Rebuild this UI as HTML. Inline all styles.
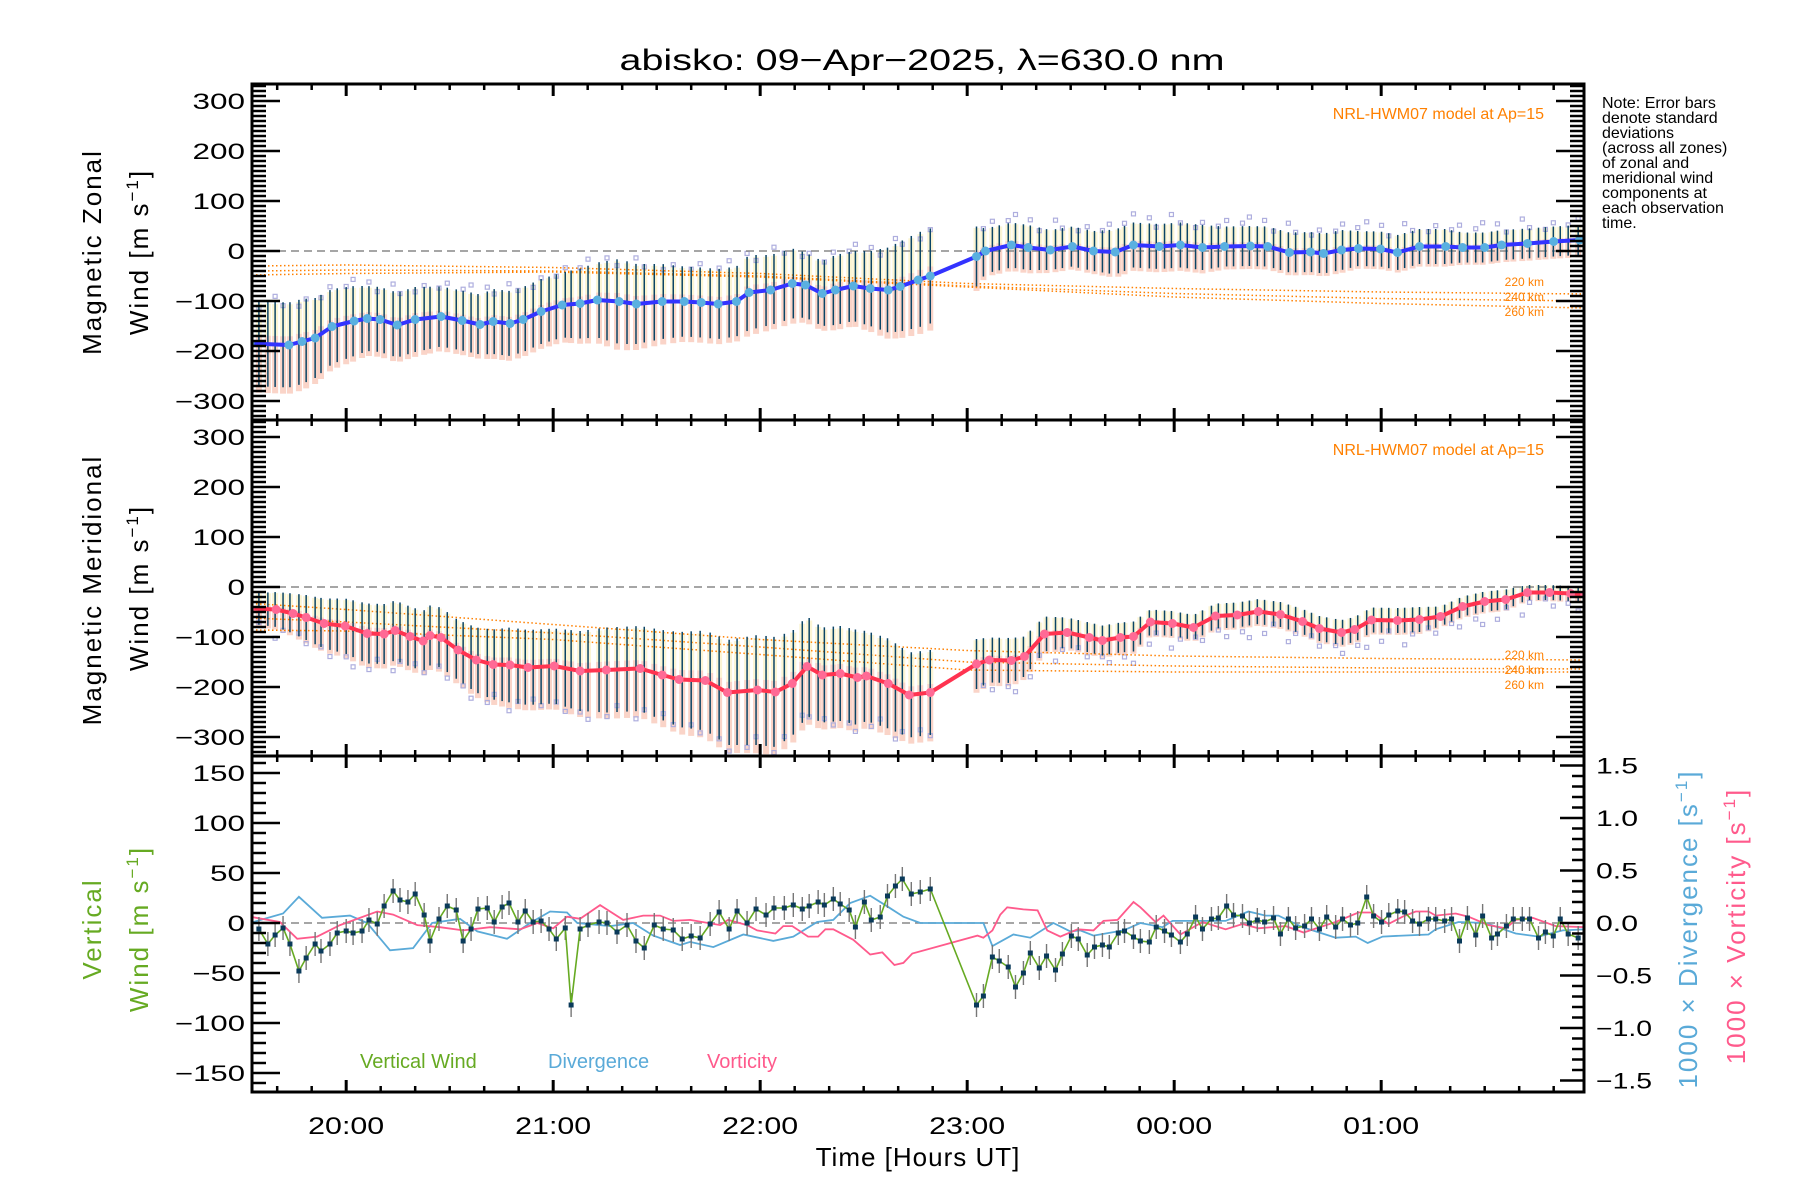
<!DOCTYPE html>
<html><head><meta charset="utf-8"><title>abisko winds</title>
<style>
html,body{margin:0;padding:0;background:#fff;}
svg{display:block;}
text{font-family:"Liberation Sans",sans-serif;}
</style></head>
<body>
<svg id="chart" xmlns="http://www.w3.org/2000/svg" width="1800" height="1200" viewBox="0 0 1800 1200">
<rect x="0" y="0" width="1800" height="1200" fill="#fff"/>
<defs>
<clipPath id="c1"><rect x="252" y="84" width="1332" height="336"/></clipPath>
<clipPath id="c2"><rect x="252" y="420" width="1332" height="336"/></clipPath>
<clipPath id="c3"><rect x="252" y="756" width="1332" height="336"/></clipPath>
</defs>
<text x="922" y="70" font-size="30" text-anchor="middle" textLength="605" lengthAdjust="spacingAndGlyphs">abisko: 09−Apr−2025, λ=630.0 nm</text>
<g font-size="16" fill="#000">
<text x="1602" y="108">Note: Error bars</text>
<text x="1602" y="123">denote standard</text>
<text x="1602" y="138">deviations</text>
<text x="1602" y="153">(across all zones)</text>
<text x="1602" y="168">of zonal and</text>
<text x="1602" y="183">meridional wind</text>
<text x="1602" y="198">components at</text>
<text x="1602" y="213">each observation</text>
<text x="1602" y="228">time.</text>
</g>
<text transform="rotate(-90 101 252)" x="101" y="252" font-size="26" text-anchor="middle" letter-spacing="2">Magnetic Zonal</text>
<text transform="rotate(-90 148 252)" x="148" y="252" font-size="26" text-anchor="middle" letter-spacing="2">Wind [m s<tspan dy="-10" font-size="17">−1</tspan><tspan dy="10">]</tspan></text>
<text transform="rotate(-90 101 590)" x="101" y="590" font-size="26" text-anchor="middle" letter-spacing="2">Magnetic Meridional</text>
<text transform="rotate(-90 148 588)" x="148" y="588" font-size="26" text-anchor="middle" letter-spacing="2">Wind [m s<tspan dy="-10" font-size="17">−1</tspan><tspan dy="10">]</tspan></text>
<text transform="rotate(-90 101 929)" x="101" y="929" font-size="26" text-anchor="middle" letter-spacing="2" fill="#66aa22">Vertical</text>
<text transform="rotate(-90 148 929)" x="148" y="929" font-size="26" text-anchor="middle" letter-spacing="2" fill="#66aa22">Wind [m s<tspan dy="-10" font-size="17">−1</tspan><tspan dy="10">]</tspan></text>
<text transform="rotate(-90 1697 929)" x="1697" y="929" font-size="26" text-anchor="middle" letter-spacing="2" fill="#5aaad8">1000 × Divergence [s<tspan dy="-10" font-size="17">−1</tspan><tspan dy="10">]</tspan></text>
<text transform="rotate(-90 1745 926)" x="1745" y="926" font-size="26" text-anchor="middle" letter-spacing="2" fill="#ff5a8c">1000 × Vorticity [s<tspan dy="-10" font-size="17">−1</tspan><tspan dy="10">]</tspan></text>
<text x="918" y="1166" font-size="26" text-anchor="middle" letter-spacing="1">Time [Hours UT]</text>
<text x="1544" y="119" font-size="16" fill="#ff8000" text-anchor="end">NRL-HWM07 model at Ap=15</text>
<text x="1544" y="455" font-size="16" fill="#ff8000" text-anchor="end">NRL-HWM07 model at Ap=15</text>
<text x="360" y="1068" font-size="20" fill="#66aa22">Vertical Wind</text>
<text x="548" y="1068" font-size="20" fill="#5aaad8">Divergence</text>
<text x="707" y="1068" font-size="20" fill="#ff5a8c">Vorticity</text>
</svg>
<script>
// ---------- data (times in minutes after 19:00 UT) ----------
const obsTimes=[34.7,37.3,39.4,41.7,43.7,46.3,48.4,51.0,52.7,55.3,57.4,60.0,62.0,64.6,66.6,69.0,71.0,73.6,75.6,77.9,80.0,82.6,84.3,86.9,89.3,91.9,93.9,96.2,98.2,100.9,102.9,105.2,107.2,109.8,111.9,114.2,116.5,118.8,120.9,123.5,125.2,127.8,130.1,133.3,135.6,138.5,141.4,144.0,146.4,149.3,151.9,154.8,157.4,160.0,162.6,165.5,168.1,171.0,173.3,176.2,178.8,181.7,184.0,187.0,189.6,192.2,194.2,196.8,198.6,201.2,203.2,205.8,207.6,210.2,212.2,214.8,216.9,219.2,221.2,223.8,226.4,229.3,242.7,244.7,247.3,249.3,251.9,254.0,256.3,258.3,260.9,263.0,265.6,267.6,270.2,272.2,274.8,276.9,279.2,281.2,283.8,285.6,288.2,290.2,292.8,294.8,297.2,299.2,301.8,303.8,306.2,308.2,310.8,312.8,315.2,317.2,319.8,321.8,324.1,326.2,328.8,330.8,333.1,335.2,337.8,339.8,342.1,344.2,346.8,348.8,351.1,353.2,355.8,357.8,360.1,362.2,364.8,366.8,369.1,371.1,373.7,375.8,378.4,380.4,382.7,385.0,387.4,389.4,392.0,393.7,396.3,398.3,400.9,403.0,405.6,407.6,409.9,411.9,414.2,417.1];
const verticalWind=[-6,-21,-12,-5,-21,-48,-35,-21,-28,-21,-10,-8,-10,-8,3,-1,17,32,23,21,29,8,-18,4,17,13,-18,-6,14,15,1,16,20,1,12,1,2,-6,-16,-5,-82,-6,-2,1,0,-9,-2,-18,-25,-2,-6,-7,-16,-13,-15,-1,11,-6,12,0,14,8,15,15,18,14,17,21,18,24,19,13,-4,21,3,6,27,37,44,29,31,34,-82,-73,-34,-38,-44,-64,-50,-30,-45,-33,-47,-31,-13,-16,-32,-24,-22,-24,-10,-8,-14,-18,-19,-4,-8,-12,-19,-11,6,-6,4,5,17,8,7,0,3,1,5,-11,4,-5,-3,4,-6,6,-4,4,-2,0,26,7,1,8,12,11,2,-1,4,4,2,4,-18,5,-12,7,-15,-11,-3,4,4,4,-15,-9,-13,4,-11,-15];
const verticalErr=12;

const zonalTimes=[32.1,43.4,47.2,51.0,55.9,62.3,66.1,69.8,74.8,80.0,87.5,93.6,98.8,102.6,107.5,111.3,116.5,122.6,127.8,132.8,139.1,144.1,151.6,158.0,162.9,167.8,173.1,176.8,183.0,189.3,193.1,198.0,201.8,207.0,211.9,217.1,220.6,225.8,229.3,242.7,245.3,252.8,257.7,264.1,270.5,276.6,282.9,288.2,295.7,301.8,308.2,314.6,322.1,327.1,333.4,339.5,343.3,348.5,353.4,359.8,364.7,371.1,378.7,383.6,390.0,394.9,402.4,410.0,417.5];
const zonalWind=[-185,-188,-181,-174,-151,-140,-135,-137,-148,-137,-131,-139,-147,-141,-145,-137,-121,-108,-105,-98,-101,-106,-101,-101,-103,-106,-101,-83,-78,-65,-68,-85,-78,-70,-75,-78,-71,-58,-50,-11,0,12,7,2,9,0,-2,12,9,12,7,9,10,9,-3,-2,-5,2,5,4,-3,9,9,7,7,12,15,19,22];
const zonalStd=[85,85,85,80,75,70,65,65,65,65,60,60,60,65,65,65,65,65,70,75,85,80,75,70,70,70,70,75,70,70,65,65,70,70,75,85,90,95,95,60,45,45,45,40,40,40,45,45,45,45,45,40,40,40,40,40,40,40,35,35,35,35,35,30,30,30,30,30,30];

const meridTimes=[32.1,39.7,44.6,48.4,53.6,59.7,66.1,71.0,74.2,78.5,82.3,84.3,87.5,92.4,97.7,102.6,107.5,112.7,120.3,127.8,135.4,145.2,151.6,156.5,164.1,170.5,179.2,184.4,189.3,193.6,198.0,203.2,208.2,210.8,217.1,223.2,229.3,242.7,246.4,252.8,256.6,262.4,269.0,275.4,279.2,284.4,288.2,293.1,299.5,305.6,312.0,318.3,324.4,330.8,337.2,342.1,348.5,352.3,357.2,364.7,371.1,377.2,383.6,390.0,396.1,402.4,408.8,414.9,419.0];
const meridWind=[-43,-45,-53,-61,-73,-78,-93,-94,-87,-99,-108,-97,-101,-126,-146,-155,-156,-161,-158,-168,-166,-163,-176,-185,-187,-211,-206,-210,-193,-159,-176,-173,-181,-178,-193,-216,-211,-154,-146,-147,-139,-94,-91,-101,-107,-101,-99,-70,-73,-81,-58,-56,-49,-55,-69,-83,-91,-85,-66,-67,-65,-59,-39,-29,-25,-11,-11,-13,-15];
const meridStd=[30,35,40,45,50,55,60,60,60,60,60,60,60,60,65,70,75,75,75,80,85,85,90,95,100,105,110,110,105,100,95,95,95,90,90,85,85,50,45,45,40,35,30,30,30,30,30,25,25,25,25,25,25,25,25,25,25,25,25,25,25,20,20,20,20,15,15,15,15];

const divTimes=[32.1,41.7,46.3,53.0,61.1,66.1,72.7,79.4,84.9,93.0,98.0,106.6,113.3,119.1,124.0,127.0,136.5,143.2,149.0,156.8,159.7,166.4,175.1,183.8,189.6,196.5,201.2,206.1,211.9,217.7,221.5,226.4,244.7,247.3,253.4,258.3,265.0,269.9,272.8,276.6,285.3,290.2,296.6,299.5,314.9,321.5,326.5,330.2,337.2,343.9,346.8,352.6,356.1,360.4,366.2,373.7,375.8,382.4,390.3,399.0,405.6,412.6,419.3];
const divergence=[0,0.09,0.25,0.05,0.07,0,-0.26,-0.24,0,0.04,-0.08,-0.15,0,0.11,0.1,0,-0.03,0,-0.12,-0.21,-0.18,-0.23,-0.11,-0.17,-0.13,0.01,0.03,0.19,0.26,0.14,0.06,0,0,-0.22,-0.11,-0.14,0,-0.08,-0.07,-0.12,-0.07,0,-0.04,0.02,0.02,0.11,0.07,0.07,-0.04,-0.11,-0.14,-0.13,-0.19,-0.13,-0.12,-0.11,-0.06,0.01,0,-0.1,-0.13,-0.07,-0.06];

const vortTimes=[32.1,40.8,45.8,51.6,58.2,69.0,73.6,80.6,87.2,93.9,101.7,110.4,115.4,120.0,124.0,127.8,133.6,140.3,146.1,151.0,154.8,159.7,168.4,170.7,176.2,179.1,184.4,186.7,189.3,193.9,196.8,198.9,201.2,207.0,211.9,215.4,218.9,221.5,224.1,243.0,244.7,247.3,249.6,251.6,256.3,260.4,263.2,267.0,272.0,276.6,279.5,283.6,288.2,290.2,294.6,296.9,301.8,308.2,314.9,319.8,324.4,332.3,337.5,346.8,353.4,357.5,362.1,366.2,370.0,373.7,375.8,381.6,385.3,391.1,396.1,399.0,403.9,410.6,419.3];
const vorticity=[0.06,0.01,-0.15,-0.13,-0.02,0.11,0.08,-0.02,-0.04,-0.07,-0.04,-0.06,0,-0.05,0.06,0.04,0.17,0.03,0.07,0.07,0.02,0.03,-0.02,0.03,-0.02,-0.07,-0.1,-0.03,-0.03,-0.13,-0.13,-0.06,-0.06,-0.16,-0.3,-0.28,-0.4,-0.38,-0.29,-0.12,-0.14,-0.07,0.08,0.15,0.13,0.12,-0.07,-0.13,-0.06,-0.07,0.02,0.03,0.2,0.15,0.01,0.07,-0.11,0.01,-0.06,-0.01,-0.05,-0.03,-0.09,0.01,0.1,0.1,-0.01,0.06,0.11,0.11,0.07,0.09,0.06,-0.02,-0.05,0.03,0.05,-0.03,-0.04];

const modelTimes=[32.7,60,120,180,240,300,360,419];
const zonalModel220=[-30,-28,-33,-45,-65,-75,-82,-86];
const zonalModel240=[-40,-38,-40,-50,-70,-85,-95,-100];
const zonalModel260=[-48,-45,-42,-52,-72,-92,-105,-114];
const meridModel220=[-33,-45,-75,-105,-127,-138,-143,-146];
const meridModel240=[-62,-70,-92,-120,-150,-158,-162,-164];
const meridModel260=[-86,-88,-105,-135,-166,-170,-170,-170];

const hourTicks=[60,120,180,240,300,360];
const hourLabels=['20:00','21:00','22:00','23:00','00:00','01:00'];
const windTickLabels=[300,200,100,0,-100,-200,-300];
const vertTickLabels=[150,100,50,0,-50,-100,-150];
const rightTickLabels=[1.5,1.0,0.5,0.0,-0.5,-1.0,-1.5];

// ---------- scales ----------
const L=252,R=1584;
const panels=[{top:84,bot:420},{top:420,bot:756},{top:756,bot:1092}];
const X=m=>L+(m-32.7)*3.45;
const Y1=v=>251-0.5*v;
const Y2=v=>587-0.5*v;
const Y3=v=>923-v;
const YR=v=>923-105*v;

const NS='http://www.w3.org/2000/svg';
const svg=document.getElementById('chart');
function mk(tag,attrs,parent){const e=document.createElementNS(NS,tag);for(const k in attrs)e.setAttribute(k,attrs[k]);(parent||svg).appendChild(e);return e;}
function interp(ts,vs,t){if(t<=ts[0])return vs[0];for(let i=1;i<ts.length;i++){if(t<=ts[i]){const f=(t-ts[i-1])/(ts[i]-ts[i-1]);return vs[i-1]+f*(vs[i]-vs[i-1]);}}return vs[vs.length-1];}
function pts(ts,vs,Y){let s='';const n=Math.min(ts.length,vs.length);for(let i=0;i<n;i++)s+=X(ts[i]).toFixed(1)+','+Y(vs[i]).toFixed(1)+' ';return s;}

// ---------- wind panels (zonal, meridional) ----------
function windPanel(idx,Y,ts,vs,sd,models,lineCol,dotCol,name){
  const g=mk('g',{'clip-path':'url(#c'+(idx+1)+')'});
  
  
  const up=idx===0;
  for(let i=0;i<obsTimes.length;i++){
    const t=obsTimes[i],c=interp(ts,vs,t),s=interp(ts,sd,t),x=X(t);
    const yl=mk('rect',{x:x-3,y:Y(c+0.95*s),width:6,height:Math.abs(Y(c+0.2*s)-Y(c+0.95*s)),fill:'#faeeb8',opacity:0.6},g);
    
    
    const sa=mk('rect',{x:x-3,y:Y(c+0.2*s),width:6,height:Math.abs(Y(c-1.15*s)-Y(c+0.2*s)),fill:'#f7b8a4',opacity:0.6},g);
    
    
    if(i%3!==1){
      const off=up?(0.85*s+((i*7)%5)*6):(-0.85*s-((i*7)%5)*7);
      const sq=mk('rect',{x:x-2,y:Y(c+off)-2,width:4,height:4,fill:'none',stroke:'#aeaede','stroke-width':1.2},g);
      
      
    }
  }
  const names=['220','240','260'];
  models.forEach((mv,k)=>{
    const pl=mk('polyline',{points:pts(modelTimes,mv,Y),fill:'none',stroke:'#ff8000','stroke-width':1.5,'stroke-dasharray':'1.5 2.5'},g);
    
    
  });
  const z=mk('line',{x1:L,x2:R,y1:Y(0),y2:Y(0),stroke:'#888','stroke-width':1.5,'stroke-dasharray':'8 5'},g);
  
  
  for(let i=0;i<obsTimes.length;i++){
    const t=obsTimes[i],c=interp(ts,vs,t),s=interp(ts,sd,t),x=X(t);
    const b=mk('line',{x1:x,x2:x,y1:Y(c+s),y2:Y(c-s),stroke:'#0b4566','stroke-width':1.5},g);
    
    
  }
  const ln=mk('polyline',{points:pts(ts,vs,Y),fill:'none',stroke:lineCol,'stroke-width':4,'stroke-linejoin':'round'},g);
  
  
  for(let i=0;i<Math.min(ts.length,vs.length);i++){
    const d=mk('circle',{cx:X(ts[i]),cy:Y(vs[i]),r:4.5,fill:dotCol},g);
    
    
  }
  const ly=idx===0?[282,297,312]:[655,670,685];
  names.forEach((n,k)=>{
    const tx=mk('text',{x:1544,y:ly[k]+4,'font-size':12,fill:'#ff8000','text-anchor':'end'});
    tx.textContent=n+' km';
    
    
  });
}
windPanel(0,Y1,zonalTimes,zonalWind,zonalStd,[zonalModel220,zonalModel240,zonalModel260],'#3333ff','#5ab0e0','zonal');
windPanel(1,Y2,meridTimes,meridWind,meridStd,[meridModel220,meridModel240,meridModel260],'#ff3350','#ff6a95','meridional');

// ---------- vertical panel ----------
(function(){
  const g=mk('g',{'clip-path':'url(#c3)'});
  
  
  const z=mk('line',{x1:L,x2:R,y1:Y3(0),y2:Y3(0),stroke:'#888','stroke-width':1.5,'stroke-dasharray':'8 5'},g);
  
  
  const dv=mk('polyline',{points:pts(divTimes,divergence,YR),fill:'none',stroke:'#5aaad8','stroke-width':1.8},g);
  
  
  const vo=mk('polyline',{points:pts(vortTimes,vorticity,YR),fill:'none',stroke:'#ff5a8c','stroke-width':1.8},g);
  
  
  const n=Math.min(obsTimes.length,verticalWind.length);
  for(let i=0;i<n;i++){
    const x=X(obsTimes[i]);
    const e=mk('line',{x1:x,x2:x,y1:Y3(verticalWind[i]+verticalErr),y2:Y3(verticalWind[i]-verticalErr),stroke:'#777','stroke-width':1.4},g);
    
    
  }
  const vl=mk('polyline',{points:pts(obsTimes,verticalWind,Y3),fill:'none',stroke:'#66aa22','stroke-width':1.6},g);
  
  
  for(let i=0;i<n;i++){
    const x=X(obsTimes[i]),y=Y3(verticalWind[i]);
    const m=mk('rect',{x:x-2.5,y:y-2.5,width:5,height:5,fill:'#0a3a5a'},g);
    
    
  }
})();

// ---------- axes ----------
panels.forEach((p,pi)=>{
  const fr=mk('rect',{x:L,y:p.top,width:R-L,height:p.bot-p.top,fill:'none',stroke:'#000','stroke-width':3});
  
  
  for(let m=40;m<=410;m+=10){
    const x=X(m),maj=(m%60===0),len=maj?12:6;
    const a=mk('line',{x1:x,x2:x,y1:p.bot,y2:p.bot-len,stroke:'#000','stroke-width':maj?3:2.5});
    
    
    const b=mk('line',{x1:x,x2:x,y1:p.top,y2:p.top+len,stroke:'#000','stroke-width':maj?3:2.5});
    
    
  }
  if(pi<2){
    const Y=pi===0?Y1:Y2;
    for(let v=-330;v<=330;v+=10){
      const y=Y(v);if(y<p.top+1||y>p.bot-1)continue;
      const maj=v%100===0,len=maj?28:14;
      const a=mk('line',{x1:L,x2:L+len,y1:y,y2:y,stroke:'#000','stroke-width':2.5});
      
      
      const b=mk('line',{x1:R,x2:R-len,y1:y,y2:y,stroke:'#000','stroke-width':2.5});
      
      
    }
    windTickLabels.forEach(v=>{
      const s=v<0?'−'+Math.abs(v):String(v);
      const t=mk('text',{x:245,y:Y(v)+8,'font-size':22,'text-anchor':'end',textLength:s.length*17.5,lengthAdjust:'spacingAndGlyphs'});
      t.textContent=s;
      
      
    });
  } else {
    for(let v=-160;v<=160;v+=10){
      const y=Y3(v);if(y<p.top+1||y>p.bot-1)continue;
      const maj=v%50===0,len=maj?28:14;
      const a=mk('line',{x1:L,x2:L+len,y1:y,y2:y,stroke:'#000','stroke-width':2.5});
      
      
    }
    for(let k=-15;k<=15;k++){
      const y=YR(k/10),maj=k%5===0,len=maj?24:12;
      const a=mk('line',{x1:R,x2:R-len,y1:y,y2:y,stroke:'#000','stroke-width':2.5});
      
      
    }
    vertTickLabels.forEach(v=>{
      const s=v<0?'−'+Math.abs(v):String(v);
      const t=mk('text',{x:245,y:Y3(v)+8,'font-size':22,'text-anchor':'end',textLength:s.length*17.5,lengthAdjust:'spacingAndGlyphs'});
      t.textContent=s;
      
      
    });
    rightTickLabels.forEach(v=>{
      const s=(v<0?'−':'')+Math.abs(v).toFixed(1);
      const t=mk('text',{x:1596,y:YR(v)+8,'font-size':22,textLength:s.length*14,lengthAdjust:'spacingAndGlyphs'});
      t.textContent=s;
      
      
    });
  }
});
hourTicks.forEach((m,i)=>{
  const t=mk('text',{x:X(m),y:1134,'font-size':24,'text-anchor':'middle',textLength:76,lengthAdjust:'spacingAndGlyphs'});
  t.textContent=hourLabels[i];
  
  
});
</script>
</body></html>
